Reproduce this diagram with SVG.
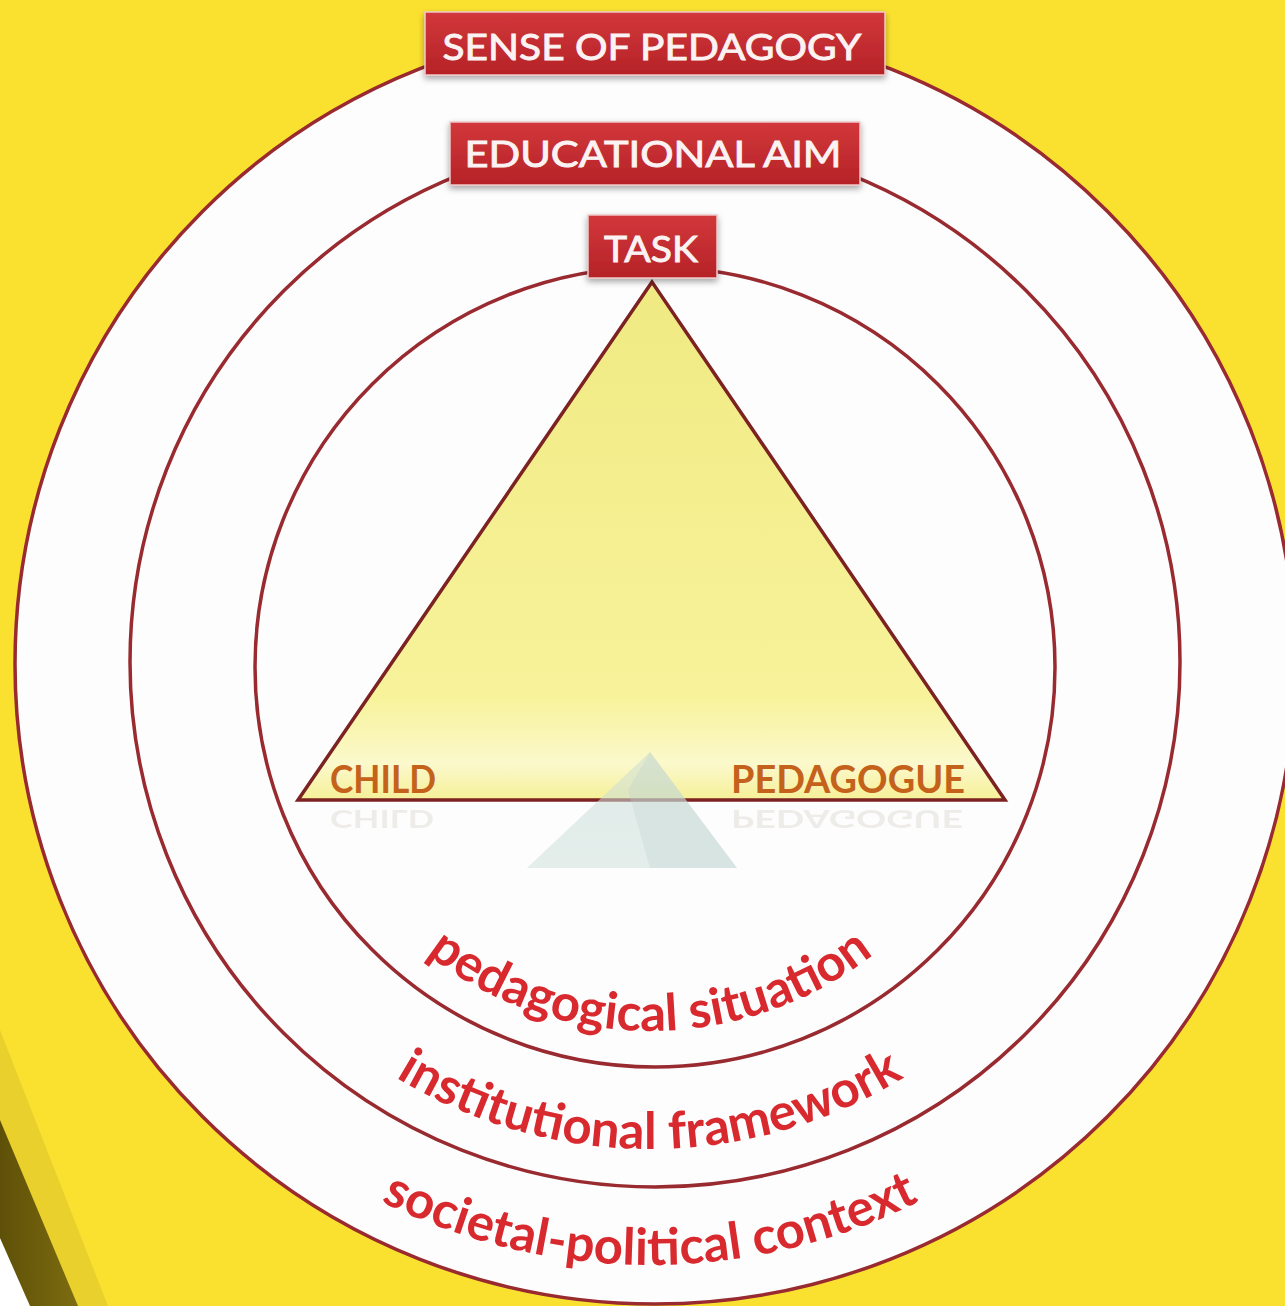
<svg xmlns="http://www.w3.org/2000/svg" width="1285" height="1306" viewBox="0 0 1285 1306">
<defs>
<linearGradient id="boxg" x1="0" y1="0" x2="0" y2="1">
<stop offset="0" stop-color="#d2373b"/>
<stop offset="1" stop-color="#b52327"/>
</linearGradient>
<linearGradient id="trig" x1="0" y1="0" x2="0" y2="1">
<stop offset="0" stop-color="#efe878"/>
<stop offset="0.8" stop-color="#f7f292"/>
<stop offset="0.93" stop-color="#fbf8c8"/>
<stop offset="1" stop-color="#f5ef8e"/>
</linearGradient>
<linearGradient id="bevel" x1="0" y1="0" x2="1" y2="0">
<stop offset="0" stop-color="#5e5008"/>
<stop offset="1" stop-color="#7d6c10"/>
</linearGradient>
<linearGradient id="reflg" x1="0" y1="0" x2="0" y2="1">
<stop offset="0" stop-color="#c3d8d3" stop-opacity="0.45"/>
<stop offset="1" stop-color="#d9e7e3" stop-opacity="0.7"/>
</linearGradient>
<filter id="sh" x="-10%" y="-20%" width="120%" height="150%">
<feDropShadow dx="0" dy="3" stdDeviation="3" flood-color="#000" flood-opacity="0.35"/>
</filter>
<path id="arc-ps" d="M 286,667 A 364,364 0 0 0 1014,667"/>
<path id="arc-if" d="M 163,662 A 487,487 0 0 0 1137,662"/>
<path id="arc-sp" d="M 49,664 A 601,601 0 0 0 1251,664"/>
</defs>
<style>
.ring{fill:none;stroke:#982a30;stroke-width:3.5}
.box{fill:url(#boxg);stroke:#f0c8c8;stroke-width:1.5;filter:url(#sh)}
.boxt{font-family:"Lato","Open Sans",sans-serif;font-weight:400;fill:#fbf3f3;stroke:#fbf3f3;stroke-width:0.9;font-size:37px;text-anchor:middle}
.corner{font-family:"Lato","Open Sans",sans-serif;font-weight:700;fill:#c4621c;font-size:38px}
.refl{font-family:"Lato","Open Sans",sans-serif;font-weight:700;fill:#d9d3cc;font-size:38px;opacity:0.4}
.arc{font-family:"Lato","Open Sans",sans-serif;font-weight:700;fill:#d8292e;font-size:51px;text-anchor:middle}
</style>
<rect x="0" y="0" width="1285" height="1306" fill="#fbe12f"/>
<g id="bevel-edge">
<polygon points="0,1030 108,1306 0,1306" fill="#ead02c"/>
<polygon points="0,1120 78,1306 0,1306" fill="url(#bevel)"/>
<polygon points="0,1238 30,1306 0,1306" fill="#ffffff"/>
</g>
<g id="ring-outer">
<circle cx="655" cy="664" r="640" fill="#fdfdfd"/>
<circle class="ring" cx="655" cy="664" r="640"/>
</g>
<g id="ring-middle">
<circle class="ring" cx="655" cy="662" r="525"/>
</g>
<g id="ring-inner">
<circle class="ring" cx="655" cy="667" r="400"/>
</g>
<g id="triangle">
<polygon points="652,282 298,800 1005,800" fill="url(#trig)" fill-opacity="0.92" stroke="#7c2222" stroke-width="3.5" stroke-linejoin="miter"/>
</g>
<g id="reflection">
<polygon points="650,752 527,868 650,868" fill="url(#reflg)"/>
<polygon points="650,752 737,868 650,868" fill="url(#reflg)"/>
<polygon points="650,752 628,790 650,868 737,868" fill="#bcd2cd" opacity="0.3"/>
<text class="refl" x="330" y="793" textLength="104" lengthAdjust="spacingAndGlyphs" transform="matrix(1,0,0,-0.65,0,1325.45)">CHILD</text>
<text class="refl" x="731" y="793" textLength="232" lengthAdjust="spacingAndGlyphs" transform="matrix(1,0,0,-0.65,0,1325.45)">PEDAGOGUE</text>
</g>
<g id="node-child">
<text class="corner" x="330" y="793" textLength="106" lengthAdjust="spacingAndGlyphs">CHILD</text>
</g>
<g id="node-pedagogue">
<text class="corner" x="731" y="793" textLength="234" lengthAdjust="spacingAndGlyphs">PEDAGOGUE</text>
</g>
<g id="label-pedagogical-situation">
<text class="arc"><textPath href="#arc-ps" startOffset="50%">pedagogical situation</textPath></text>
</g>
<g id="label-institutional-framework">
<text class="arc"><textPath href="#arc-if" startOffset="50%">institutional framework</textPath></text>
</g>
<g id="label-societal-political-context">
<text class="arc"><textPath href="#arc-sp" startOffset="50%">societal-political context</textPath></text>
</g>
<g id="node-sense-of-pedagogy">
<rect class="box" x="425" y="12" width="460" height="63"/>
<text class="boxt" x="652" y="60" textLength="419" lengthAdjust="spacingAndGlyphs">SENSE OF PEDAGOGY</text>
</g>
<g id="node-educational-aim">
<rect class="box" x="450" y="122" width="410" height="63"/>
<text class="boxt" x="653" y="167" textLength="377" lengthAdjust="spacingAndGlyphs">EDUCATIONAL AIM</text>
</g>
<g id="node-task">
<rect class="box" x="588" y="215" width="129" height="63"/>
<text class="boxt" x="651" y="262" textLength="94" lengthAdjust="spacingAndGlyphs">TASK</text>
</g>
<g id="connectors"/>
</svg>
